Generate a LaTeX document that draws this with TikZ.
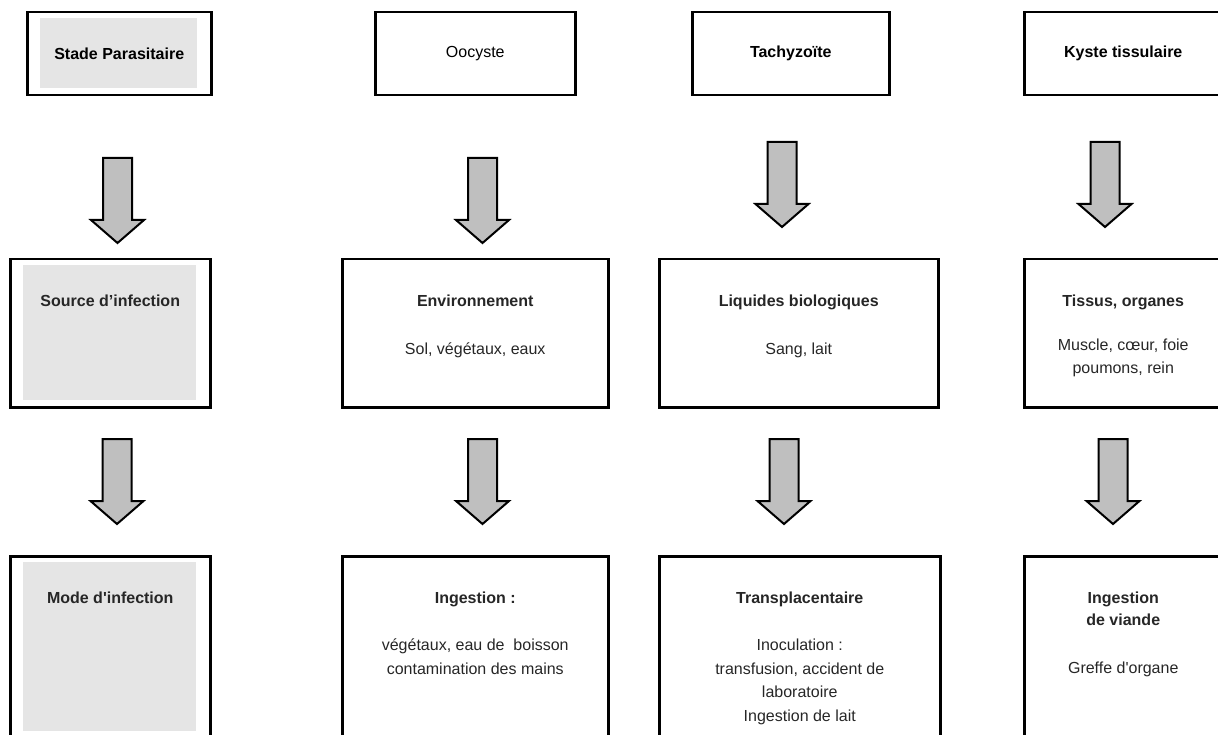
\documentclass[tikz,border=0pt]{standalone}
\usepackage{fontspec}
\setmainfont{Liberation Sans}
\usetikzlibrary{positioning}

\newcommand{\flechebas}[2]{\draw[fleche, shift={(#1,#2)}] (-14.5,0) -- (14.5,0) -- (14.5,62) -- (26.5,62) -- (0,85) -- (-26.5,62) -- (-14.5,62) -- cycle;}

\begin{document}
\begin{tikzpicture}[x=1pt,y=-1pt,
  font=\fontsize{16pt}{23.5pt}\selectfont,
  boite/.style={draw, line width=2.5pt, anchor=north west, inner sep=0pt, font=\fontsize{16pt}{23.5pt}\selectfont\bfseries},
  entete/.style={boite, path picture={\fill[gray!20] ([xshift=13pt,yshift=-6pt]path picture bounding box.north west) rectangle ([xshift=-14pt,yshift=7pt]path picture bounding box.south east);}},
  texte/.style={align=center, anchor=north, inner sep=0pt, text=black!85},
  fleche/.style={draw=black, line width=2pt, fill=gray!50, line join=miter}]
\useasboundingbox (0,0) rectangle (1218,735);
\clip (0,0) rectangle (1218,735);

% stades
\node[entete, minimum width=184pt, minimum height=83pt] (stade) at (26,11) {Stade Parasitaire};
\node[boite, minimum width=200pt, minimum height=83pt] (oocyste) at (374,11) {\mdseries Oocyste};
\node[boite, minimum width=197pt, minimum height=83pt] (tachy) at (691,11) {Tachyzoïte};
\node[boite, minimum width=198pt, minimum height=83pt] (kyste) at (1023,11) {Kyste tissulaire};

% sources
\node[entete, minimum width=200pt, minimum height=148pt] (source) at (9,258) {};
\node[boite, minimum width=266pt, minimum height=148pt] (env) at (341,258) {};
\node[boite, minimum width=279pt, minimum height=148pt] (liq) at (658,258) {};
\node[boite, minimum width=198pt, minimum height=148pt] (tissus) at (1023,258) {};

\node[texte, below=37pt of source.north] (sourceT) {\textbf{Source d’infection}};
\node[texte, below=37pt of env.north] (envT) {\textbf{Environnement}\\[24pt]Sol, végétaux, eaux};
\node[texte, below=37pt of liq.north] (liqT) {\textbf{Liquides biologiques}\\[24pt]Sang, lait};
\node[texte, below=37pt of tissus.north] (tissusT) {\textbf{Tissus, organes}\\[20pt]Muscle, cœur, foie\\poumons, rein};

% modes
\node[entete, minimum width=200pt, minimum height=182pt] (mode) at (9,555) {};
\node[boite, minimum width=266pt, minimum height=182pt] (ingest) at (341,555) {};
\node[boite, minimum width=281pt, minimum height=182pt] (transpl) at (658,555) {};
\node[boite, minimum width=198pt, minimum height=182pt] (viande) at (1023,555) {};

\node[texte, below=37pt of mode.north] (modeT) {\textbf{Mode d\textquotesingle infection}};
\node[texte, below=37pt of ingest.north] (ingestT) {\textbf{Ingestion :}\\[23.5pt]végétaux, eau de~ boisson\\contamination des mains};
\node[texte, below=37pt of transpl.north] (transplT) {\textbf{Transplacentaire}\\[23.5pt]Inoculation :\\transfusion, accident de\\laboratoire\\Ingestion de lait};
\node[texte, below=37pt of viande.north] (viandeT) {\textbf{Ingestion}\\[-1.5pt]\textbf{de viande}\\[24pt]Greffe d\textquotesingle organe};

% fleches
\flechebas{117.5}{158}
\flechebas{482.5}{158}
\flechebas{782}{142}
\flechebas{1105}{142}
\flechebas{117}{439}
\flechebas{482.5}{439}
\flechebas{784}{439}
\flechebas{1113}{439}
\end{tikzpicture}
\end{document}
